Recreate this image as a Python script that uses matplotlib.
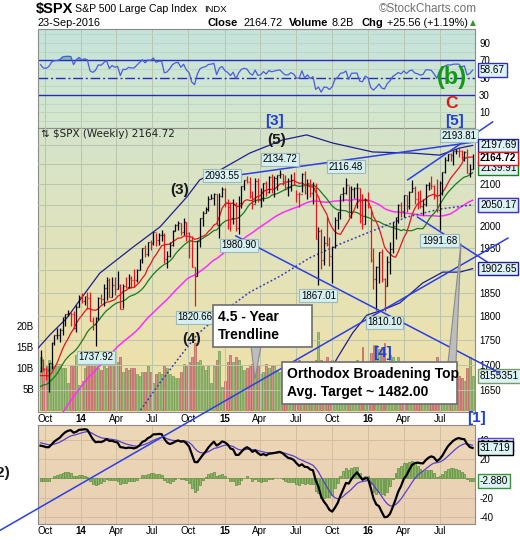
import numpy as np
import pandas as pd
import matplotlib
matplotlib.use("Agg")
import matplotlib.pyplot as plt
import matplotlib.dates as mdates
import matplotlib.colors as mcolors
from matplotlib.patches import Rectangle, Polygon
from matplotlib.ticker import NullLocator

plt.rcParams["font.family"] = ["Liberation Sans", "DejaVu Sans"]
plt.rcParams["axes.unicode_minus"] = False

W, H = 520, 540

# ---------------- data ----------------
# weekly closes before the visible window (indicator warm-up)
warmup_dates = pd.date_range("2012-09-07", "2013-09-13", freq="W-FRI")
warmup_close = [
    1437.9, 1465.8, 1460.2, 1440.7, 1460.9, 1428.6, 1433.2, 1411.9, 1414.2, 1379.9,
    1359.9, 1409.2, 1416.2, 1418.1, 1413.6, 1430.2, 1402.4, 1466.5, 1472.1, 1486.0,
    1503.0, 1513.2, 1517.9, 1519.8, 1515.6, 1518.2, 1551.2, 1560.7, 1556.9, 1569.2,
    1553.3, 1588.9, 1555.3, 1582.2, 1614.4, 1633.7, 1667.5, 1649.6, 1630.7, 1643.4,
    1626.7, 1592.4, 1606.3, 1631.9, 1680.2, 1692.1, 1691.7, 1709.7, 1691.4, 1655.8,
    1663.5, 1633.0, 1655.2, 1688.0,
]

week_dates = pd.date_range("2013-09-20", "2016-09-23", freq="W-FRI")

high = [
    # 2013
    1729.9, 1711.0, 1696.6, 1703.4, 1745.3, 1759.8, 1775.2, 1774.5, 1798.2, 1804.8, 1813.6, 1808.0, 1811.5, 1823.8, 1844.9,
    # 2014
    1849.4, 1843.2, 1850.8, 1850.8, 1798.8, 1798.0, 1841.7, 1847.5, 1867.9, 1883.6, 1883.0, 1884.0, 1884.0,
    1897.3, 1868.4, 1869.6, 1884.9, 1891.3, 1887.0, 1902.2, 1901.0, 1924.0, 1949.4, 1955.6, 1963.9, 1968.2,
    1985.6, 1984.9, 1983.9, 1991.4, 1984.2, 1942.9, 1964.0, 1991.0, 2005.0, 2011.2, 2008.0, 2019.3, 2010.0,
    1985.2, 1977.4, 1906.1, 1965.3, 2018.2, 2034.3, 2046.2, 2071.5, 2075.8, 2079.5, 2075.8, 2077.9, 2093.6,
    # 2015
    2092.0, 2064.4, 2056.9, 2064.6, 2057.6, 2072.4, 2097.0, 2110.9, 2119.6, 2117.5, 2083.5, 2114.9, 2114.9,
    2089.8, 2102.6, 2107.6, 2120.9, 2125.9, 2120.9, 2123.9, 2134.7, 2126.2, 2121.9, 2115.0, 2126.7, 2130.0,
    2087.0, 2082.0, 2128.8, 2132.8, 2114.2, 2112.7, 2105.4, 2103.0, 1998.0, 1992.0, 1976.0, 2020.9, 1974.0,
    1951.4, 2020.9, 2033.5, 2075.1, 2094.3, 2116.5, 2095.0, 2097.0, 2094.1, 2104.3, 2090.6, 2076.7, 2067.0,
    # 2016
    2081.6, 2038.2, 1950.3, 1908.9, 1940.2, 1947.2, 1881.6, 1930.7, 1962.9, 2009.1, 2022.4, 2052.4, 2056.6,
    2074.0, 2073.2, 2083.0, 2111.1, 2096.0, 2083.4, 2084.9, 2064.2, 2100.0, 2105.3, 2120.6, 2098.0, 2113.3,
    2108.7, 2131.7, 2169.1, 2175.6, 2177.1, 2183.5, 2188.5, 2193.8, 2187.0, 2183.5, 2187.9, 2150.8, 2175.3,
]
low = [
    # 2013
    1686.0, 1687.1, 1670.4, 1646.5, 1692.0, 1740.5, 1752.7, 1746.2, 1760.6, 1779.2, 1800.7, 1779.4, 1772.3, 1767.0, 1818.3,
    # 2014
    1827.7, 1823.7, 1815.5, 1790.3, 1770.5, 1737.9, 1791.8, 1824.6, 1821.6, 1834.4, 1839.6, 1839.6, 1844.0,
    1857.8, 1814.4, 1816.6, 1859.7, 1859.8, 1859.8, 1862.4, 1872.9, 1900.5, 1915.9, 1929.5, 1930.0, 1944.7,
    1956.9, 1952.9, 1955.6, 1965.2, 1916.0, 1904.8, 1928.3, 1954.8, 1989.0, 1990.0, 1980.0, 1978.6, 1965.0,
    1926.0, 1906.0, 1820.7, 1886.8, 1951.4, 2001.0, 2030.0, 2034.4, 2064.0, 2049.6, 2002.3, 1972.6, 2069.3,
    # 2015
    2046.0, 1992.4, 1988.1, 2004.5, 1989.0, 1980.9, 2041.9, 2085.6, 2103.0, 2067.0, 2039.7, 2055.0, 2057.0,
    2045.5, 2059.8, 2072.4, 2078.6, 2077.8, 2067.9, 2085.0, 2115.0, 2099.2, 2085.7, 2072.1, 2084.0, 2098.0,
    2056.3, 2044.0, 2080.0, 2077.0, 2063.5, 2067.9, 2052.1, 1970.9, 1867.0, 1903.0, 1910.0, 1953.0, 1908.8,
    1871.9, 1950.0, 1993.3, 2016.0, 2058.8, 2075.8, 2022.0, 2019.4, 2067.0, 2042.4, 2006.5, 1993.3, 2005.0,
    # 2016
    2043.6, 1918.5, 1857.8, 1812.3, 1872.0, 1872.7, 1810.1, 1864.8, 1891.0, 1937.1, 1969.3, 2007.0, 2022.0,
    2022.0, 2033.8, 2039.7, 2081.2, 2052.3, 2039.4, 2043.1, 2025.9, 2047.3, 2085.0, 2089.4, 2063.1, 2032.6,
    1991.7, 2074.0, 2128.9, 2159.0, 2157.5, 2147.6, 2175.0, 2168.5, 2160.4, 2157.1, 2127.8, 2119.1, 2139.2,
]
close = [
    # 2013
    1709.9, 1691.8, 1690.5, 1703.2, 1744.5, 1759.8, 1761.6, 1770.6, 1798.2, 1804.8, 1805.8, 1805.1, 1775.3, 1818.3, 1841.4,
    # 2014
    1831.4, 1842.4, 1838.7, 1790.3, 1782.6, 1797.0, 1838.6, 1836.3, 1859.5, 1878.0, 1841.1, 1866.5, 1857.6,
    1865.1, 1815.7, 1864.9, 1863.4, 1881.1, 1878.5, 1877.9, 1900.5, 1923.6, 1949.4, 1936.2, 1962.9, 1961.0,
    1985.4, 1967.6, 1978.2, 1978.3, 1925.2, 1931.6, 1955.1, 1988.4, 2003.4, 2007.7, 1985.5, 2010.4, 1982.9,
    1967.9, 1906.1, 1886.8, 1964.6, 2018.1, 2031.9, 2039.8, 2063.5, 2067.6, 2075.4, 2002.3, 2070.7, 2088.8,
    # 2015
    2058.2, 2044.8, 2019.4, 2051.8, 1995.0, 2055.5, 2097.0, 2110.3, 2104.5, 2071.3, 2053.4, 2108.1, 2061.0,
    2067.0, 2102.1, 2081.2, 2117.7, 2108.3, 2116.1, 2122.7, 2126.1, 2107.4, 2092.8, 2094.1, 2110.0, 2101.5,
    2076.8, 2076.6, 2126.6, 2079.7, 2103.8, 2077.6, 2091.5, 1970.9, 1988.9, 1921.2, 1961.1, 1958.0, 1931.3,
    1951.4, 2014.9, 2033.1, 2075.2, 2079.4, 2099.2, 2023.0, 2089.2, 2090.1, 2091.7, 2012.4, 2005.6, 2061.0,
    # 2016
    2043.9, 1922.0, 1880.3, 1906.9, 1940.2, 1880.1, 1864.8, 1917.8, 1948.1, 2000.0, 2022.2, 2049.6, 2035.9,
    2072.8, 2047.6, 2080.7, 2091.6, 2065.3, 2057.1, 2046.6, 2052.3, 2099.1, 2099.1, 2096.1, 2071.2, 2037.4,
    2103.0, 2129.9, 2161.7, 2175.0, 2173.6, 2182.9, 2184.1, 2183.9, 2169.0, 2180.0, 2127.8, 2139.2, 2164.7,
]
# weekly volume, billions
volume = [
    12.5, 10.0, 10.5, 12.0, 11.0, 10.5, 11.0, 11.0, 10.0, 10.0, 6.5, 10.5, 10.5, 13.0, 6.0,
    7.0, 10.0, 11.0, 12.5, 12.0, 13.0, 10.0, 9.5, 10.5, 10.0, 11.0, 13.0, 11.0,
    11.5, 12.5, 9.0, 10.0, 9.5, 10.0, 10.0, 8.5, 8.0, 9.0, 9.0, 10.5, 9.0,
    6.5, 8.5, 9.0, 8.5, 10.5, 10.0, 8.5, 8.0, 7.5, 7.5, 9.0, 11.0, 10.5,
    11.5, 12.5, 16.0, 11.5, 12.0, 10.5, 9.5, 10.5, 6.5, 10.5, 12.0, 14.0, 5.5,
    7.0, 11.5, 13.0, 11.5, 12.5, 12.0, 10.5, 9.5, 10.0, 10.5, 11.0, 12.5, 10.5,
    8.5, 9.0, 11.0, 10.0, 10.5, 10.5, 9.5, 9.0, 9.0, 10.0, 9.5, 11.0, 11.5,
    9.0, 12.0, 10.0, 10.5, 11.0, 10.5, 10.0, 12.0, 18.6, 12.0, 10.5, 12.5, 11.5,
    12.0, 11.0, 10.5, 11.0, 11.5, 10.5, 10.0, 10.5, 7.0, 12.0, 11.5, 15.0, 5.5,
    7.0, 13.5, 15.5, 15.5, 14.5, 15.0, 16.0, 11.0, 13.0, 12.5, 11.0, 12.5, 8.0,
    9.5, 9.0, 9.5, 10.0, 10.5, 9.5, 9.5, 10.0, 8.5, 8.5, 9.0, 10.5, 12.5,
    11.0, 9.5, 9.0, 8.5, 9.0, 8.5, 7.5, 8.0, 7.5, 7.0, 10.0, 12.5, 8.2,
]
assert len(high) == len(low) == len(close) == len(volume) == len(week_dates)

# band lines
upper_band_dates = ["2013-09-14", "2013-10-14", "2013-11-26", "2013-12-29", "2014-02-18", "2014-05-13",
                    "2014-07-21", "2014-09-27", "2014-10-30", "2014-12-20", "2015-03-06", "2015-05-29",
                    "2015-07-29", "2015-10-03", "2016-01-13", "2016-04-24", "2016-07-01", "2016-08-21",
                    "2016-09-23"]
upper_band = [1734, 1761, 1796, 1834, 1893, 1951, 1998, 2069, 2111, 2135, 2178, 2212,
              2225, 2204, 2181, 2178, 2173, 2191, 2197.69]
mid_band_dates = ["2014-05-20", "2014-07-21", "2014-09-09", "2014-10-23", "2014-12-20", "2015-03-06",
                  "2015-05-22", "2015-08-06", "2015-10-21", "2016-01-05", "2016-04-09", "2016-07-01",
                  "2016-09-23"]
mid_band = [1600, 1665, 1716, 1761, 1804, 1851, 1886, 1927, 1958, 1986, 2021, 2040, 2050.17]
lower_band_dates = ["2015-09-28", "2015-10-15", "2015-11-23", "2015-12-29", "2016-02-08", "2016-03-22",
                    "2016-05-19", "2016-07-09", "2016-08-21", "2016-09-23"]
lower_band = [1690, 1714, 1765, 1802, 1813, 1828, 1871, 1895, 1895, 1902.65]

# hand drawn trend lines (start / end)
trend_lines = {
    "trend45": (["2013-06-09", "2016-12-22"], [1401, 1972]),
    "top_upper": (["2014-12-31", "2016-11-05"], [2118, 2212]),
    "top_lower": (["2015-01-30", "2016-12-01"], [1977, 1684]),
    "channel": (["2016-04-11", "2016-11-13"], [2111, 2259]),
    "short": (["2016-05-06", "2016-11-11"], [2021, 1911]),
}

# high / low call-outs
hl_dates = ["2014-02-07", "2014-10-17", "2014-12-26", "2015-02-06", "2015-05-22",
            "2015-08-28", "2015-11-06", "2016-02-12", "2016-07-01", "2016-08-19"]
hl_values = [1737.92, 1820.66, 2093.55, 1980.90, 2134.72, 1867.01, 2116.48, 1810.10, 1991.68, 2193.81]
hl_is_high = [False, False, True, False, True, False, True, False, False, True]

tick_dates = ["2013-10-01", "2014-01-01", "2014-04-01", "2014-07-01", "2014-10-01", "2015-01-01",
              "2015-04-01", "2015-07-01", "2015-10-01", "2016-01-01", "2016-04-01", "2016-07-01"]
tick_labels = ["Oct", "14", "Apr", "Jul", "Oct", "15", "Apr", "Jul", "Oct", "16", "Apr", "Jul"]
price_ticks = [1650, 1700, 1750, 1800, 1850, 1900, 1950, 2000, 2050, 2100, 2150, 2200]
# labels hidden behind the value tags are left blank
price_tick_labels = ["1650", "1700", "1750", "1800", "1850", "", "1950", "2000", "", "2100", "", ""]
macd_ticks = [-40, -20, 0, 20, 40]
macd_tick_labels = ["-40", "-20", "", "20", "40"]

# ---------------- indicators ----------------
close_all = pd.Series(warmup_close + close, index=warmup_dates.append(week_dates))
sma10 = close_all.rolling(10).mean().loc[week_dates].values
sma20 = close_all.rolling(20).mean().loc[week_dates].values
sma50 = close_all.rolling(50).mean().loc[week_dates].values
prev_close = close_all.shift(1).loc[week_dates].values

delta = close_all.diff()
gain = delta.clip(lower=0).ewm(alpha=1 / 14, adjust=False).mean()
loss = (-delta.clip(upper=0)).ewm(alpha=1 / 14, adjust=False).mean()
rsi = (100 - 100 / (1 + gain / loss)).loc[week_dates].values

ema12 = close_all.ewm(span=12, adjust=False).mean()
ema26 = close_all.ewm(span=26, adjust=False).mean()
macd_all = ema12 - ema26
signal_all = macd_all.ewm(span=9, adjust=False).mean()
macd = macd_all.loc[week_dates].values
signal = signal_all.loc[week_dates].values
hist = macd - signal

wk = mdates.date2num(week_dates.values)
close = np.array(close)
up = close >= prev_close


def dn(lst):
    return mdates.date2num(pd.to_datetime(lst).values)


# ---------------- figure ----------------
fig = plt.figure(figsize=(W / 100, H / 100), dpi=100)
L, R = 38, 475


def panel(top, bottom):
    return [L / W, 1 - bottom / H, (R - L) / W, (bottom - top) / H]


def fx(x):
    return x / W


def fy(y):
    return 1 - y / H


ax_rsi = fig.add_axes(panel(29, 128))
ax_vol = fig.add_axes(panel(128, 412))
ax_macd = fig.add_axes(panel(425, 524))
ax_main = fig.add_axes(panel(128, 412))
ax_main.set_zorder(5)
ax_main.patch.set_visible(False)

xlim = dn(["2013-09-13 14:00", "2016-09-29 05:00"])
tk = dn(tick_dates)
grid_col = "#b9c6ad"


def gradient(ax, top, bottom):
    t = np.array(mcolors.to_rgb(top))
    b = np.array(mcolors.to_rgb(bottom))
    f = np.linspace(0, 1, 64)[:, None, None]
    ax.imshow(t * (1 - f) + b * f, extent=(0, 1, 0, 1), transform=ax.transAxes,
              aspect="auto", zorder=0, interpolation="bilinear")


def style(ax):
    for s in ax.spines.values():
        s.set_color("#8c8c8c")
        s.set_linewidth(0.8)
    ax.tick_params(length=0, labelsize=7, pad=3)


def tag(ax, val, text, edge, face="#dcf2f4", bold=False, xycoords=("axes fraction", "data")):
    ax.annotate(text, xy=(1, val), xycoords=xycoords, xytext=(5, 0), textcoords="offset pixels",
                ha="left", va="center", fontsize=7.2, fontweight="bold" if bold else "normal",
                bbox=dict(boxstyle="square,pad=0.18", fc=face, ec=edge, lw=1.0),
                annotation_clip=False, zorder=30)


# ---- RSI panel ----
ax_rsi.fill_between(wk, rsi, 70, where=rsi > 70, interpolate=True, color="#7fbdb4", zorder=2)
ax_rsi.plot(wk, rsi, color="#4a5be0", lw=0.9, zorder=3)
for lvl in (70, 30):
    ax_rsi.axhline(lvl, color="#2a2ab8", lw=1.0, zorder=2)
ax_rsi.axhline(50, color="#2a2ab8", lw=1.0, ls=(0, (7, 2, 1.5, 2)), zorder=2)
for t in tk:
    ax_rsi.axvline(t, color=grid_col, lw=0.7, zorder=1)
for lvl in (0, 10, 20, 40, 60, 80, 90, 100):
    ax_rsi.axhline(lvl, color="#bcd3c4", lw=0.6, zorder=1)
gradient(ax_rsi, "#c5e3dc", "#d6e8cc")
ax_rsi.set_xlim(xlim)
ax_rsi.set_ylim(-8.1, 106.2)
ax_rsi.set_yticks([10, 30, 50, 70, 90])
ax_rsi.yaxis.tick_right()
ax_rsi.set_xticks([])
style(ax_rsi)
tag(ax_rsi, 58.67, "58.67", "#3030c8")

# ---- volume (behind price) ----
vcol = np.where(up, "#9dc07f", "#dc8e8e")
vedge = np.where(up, "#6f9950", "#b86060")
ax_vol.bar(wk, volume, width=5.0, color=vcol, edgecolor=vedge, lw=0.5, zorder=2)
for t in tk:
    ax_vol.axvline(t, color=grid_col, lw=0.7, zorder=1)
gradient(ax_vol, "#d5e4cb", "#f2e1a6")
ax_vol.set_xlim(xlim)
ax_vol.set_ylim(-0.48, 67.1)
ax_vol.set_yticks([5, 10, 15, 20])
ax_vol.set_yticklabels(["5B", "10B", "15B", "20B"])
ax_vol.set_xticks([])
style(ax_vol)
tag(ax_vol, 8.155, "8155351", "#7a9a6a")

# ---- price panel ----
ax_main.set_yscale("log")
ax_main.plot(wk, sma50, color="#ff2cff", lw=1.1, zorder=2)
ax_main.plot(wk, sma20, color="#1d7a1d", lw=0.9, zorder=2)
ax_main.plot(wk, sma10, color="#e8141c", lw=0.9, zorder=2)
ax_main.plot(dn(upper_band_dates), upper_band, color="#1f1f8f", lw=0.9, zorder=2)
ax_main.plot(dn(lower_band_dates), lower_band, color="#1f1f8f", lw=0.9, zorder=2)
ax_main.plot(dn(mid_band_dates), mid_band, color="#3b3bb8", lw=1.1, ls=(0, (1.2, 1.5)), zorder=2)

bar_col = np.where(up, "black", "#e8141c")
ax_main.vlines(wk, low, high, colors=bar_col, lw=0.9, zorder=4)
ax_main.hlines(close, wk, wk + 2.3, colors=bar_col, lw=0.9, zorder=4)
ax_main.hlines(prev_close, wk - 2.3, wk, colors=bar_col, lw=0.9, zorder=4)

for name, (d, p) in trend_lines.items():
    ax_main.plot(dn(d), p, color="#2a3fe6", lw=1.1, zorder=6, clip_on=False)

for d, v, hi in zip(dn(hl_dates), hl_values, hl_is_high):
    ax_main.annotate(f"{v:.2f}", xy=(d, v), xytext=(0, 11 if hi else -11), textcoords="offset pixels",
                     ha="center", va="center", fontsize=7,
                     bbox=dict(boxstyle="square,pad=0.15", fc="#d6eff0", ec="#9fb8b8", lw=0.8),
                     zorder=8)

for t in tk:
    ax_main.axvline(t, color=grid_col, lw=0.7, zorder=0.5)
ax_main.set_xlim(xlim)
ax_main.set_ylim(1609, 2243)
ax_main.set_yticks(price_ticks)
ax_main.set_yticklabels(price_tick_labels)
ax_main.yaxis.set_minor_locator(NullLocator())
ax_main.yaxis.tick_right()
ax_main.grid(axis="y", color=grid_col, lw=0.7, zorder=0.5)
ax_main.set_xticks(tk)
ax_main.set_xticklabels(tick_labels)
for s in ax_main.spines.values():
    s.set_visible(False)
ax_main.tick_params(length=0, labelsize=7, pad=3)
ax_main.tick_params(axis="x", pad=1.5)

tag(ax_main, 2197.69, "2197.69", "#1f1f8f")
tag(ax_main, 2050.36, "2050.36", "#ff2cff")
tag(ax_main, 2050.17, "2050.17", "#3b3bb8")
tag(ax_main, 1902.65, "1902.65", "#1f1f8f")
tag(ax_main, 2139.91, "2139.91", "#1d7a1d")
tag(ax_main, 2164.72, "2164.72", "#e8141c", face="white", bold=True)

# ---- MACD panel ----
ax_macd.bar(wk, hist, width=5.0, color="#8dbb6a", edgecolor="#5a8a3a", lw=0.5, zorder=2)
ax_macd.plot(wk, signal, color="#5a3fd0", lw=0.9, zorder=3)
ax_macd.plot(wk, macd, color="black", lw=1.6, zorder=4)
for t in tk:
    ax_macd.axvline(t, color="#d2bfa0", lw=0.7, zorder=1)
for lvl in macd_ticks:
    ax_macd.axhline(lvl, color="#d2bfa0", lw=0.7, zorder=1)
gradient(ax_macd, "#ecd7b5", "#ead0b6")
ax_macd.set_xlim(xlim)
ax_macd.set_ylim(-47.3, 55.6)
ax_macd.set_yticks(macd_ticks)
ax_macd.set_yticklabels(macd_tick_labels)
ax_macd.yaxis.tick_right()
ax_macd.set_xticks(tk)
ax_macd.set_xticklabels(tick_labels)
style(ax_macd)
ax_macd.tick_params(axis="x", pad=1.5)
tag(ax_macd, 34.599, "34.599", "#5a3fd0")
tag(ax_macd, 31.719, "31.719", "black")
tag(ax_macd, -2.880, "-2.880", "#3f8f3f")

for ax in (ax_main, ax_macd):
    for lbl in ax.get_xticklabels():
        if lbl.get_text().isdigit():
            lbl.set_fontweight("bold")

# ---- call-out boxes and wave labels (drawn above the price panel) ----
T = fig.transFigure


def ftext(x, y, s, **kw):
    ax_main.text(fx(x), fy(y), s, transform=T, clip_on=False, zorder=40, **kw)


for (x0, y0, x1, y1) in [(213, 305, 312, 347), (282, 362, 457, 404)]:
    ax_main.add_patch(Rectangle((fx(x0), fy(y1)), fx(x1) - fx(x0), fy(y0) - fy(y1), transform=T,
                                fc="white", ec="#6e6e6e", lw=1.2, clip_on=False, zorder=35))
for pts in [[(251, 346), (261, 346), (255, 379)], [(448, 363), (456, 363), (461, 243)]]:
    ax_main.add_patch(Polygon([(fx(a), fy(b)) for a, b in pts], closed=True, transform=T,
                              fc="#bdbdbd", ec="#8a8a8a", lw=0.8, clip_on=False, zorder=34))
ftext(218, 326, "4.5 - Year\nTrendline", fontsize=10, fontweight="bold", va="center", ha="left",
      linespacing=1.35)
ftext(287, 383, "Orthodox Broadening Top\nAvg. Target ~ 1482.00", fontsize=10, fontweight="bold",
      va="center", ha="left", linespacing=1.35)

wave = dict(fontweight="bold", ha="center", va="center")
ftext(180, 190, "(3)", fontsize=11, color="#1a1a1a", **wave)
ftext(277, 140, "(5)", fontsize=11, color="#1a1a1a", **wave)
ftext(192, 339, "(4)", fontsize=11, color="#1a1a1a", **wave)
ftext(275, 121, "[3]", fontsize=11, color="#1f3fe0", **wave)
ftext(455, 121, "[5]", fontsize=11, color="#1f3fe0", **wave)
ftext(383, 353, "[4]", fontsize=11, color="#1f3fe0", **wave)
ftext(476, 418, "[1]", fontsize=11, color="#1f3fe0", **wave)
ftext(452, 103, "C", fontsize=12.5, color="#e01414", **wave)
ftext(452, 78, "(b)", fontsize=17, color="#139a13", **wave)
ftext(10, 473, "(2)", fontsize=11, color="#1a1a1a", fontweight="bold", ha="right", va="center")

ftext(41, 134, "\u21c5 $SPX (Weekly) 2164.72", fontsize=7.5, family=["DejaVu Sans"], ha="left",
      va="center", color="#202020")

# ---- header ----
fig.text(fx(36), fy(9), "$SPX", fontsize=10.5, fontweight="bold", va="center")
fig.text(fx(75), fy(9), "S&P 500 Large Cap Index", fontsize=7.6, va="center")
fig.text(fx(204), fy(9.5), "INDX", fontsize=6.8, va="center")
fig.text(fx(477), fy(9), "\u00a9StockCharts.com", fontsize=8.5, color="#707070", va="center", ha="right")
fig.text(fx(38), fy(22.5), "23-Sep-2016", fontsize=7.8, va="center")
fig.text(fx(208), fy(22.5), "Close", fontsize=8, fontweight="bold", va="center")
fig.text(fx(244), fy(22.5), "2164.72", fontsize=7.8, va="center")
fig.text(fx(289), fy(22.5), "Volume", fontsize=8, fontweight="bold", va="center")
fig.text(fx(332), fy(22.5), "8.2B", fontsize=7.8, va="center")
fig.text(fx(362), fy(22.5), "Chg", fontsize=8, fontweight="bold", va="center")
fig.text(fx(387), fy(22.5), "+25.56 (+1.19%)", fontsize=7.8, va="center")
fig.text(fx(473), fy(23), "\u25b2", fontsize=5.5, color="#2a9a2a", va="center", ha="center",
         family=["DejaVu Sans"])

fig.savefig("out.png", dpi=100, facecolor="white")
